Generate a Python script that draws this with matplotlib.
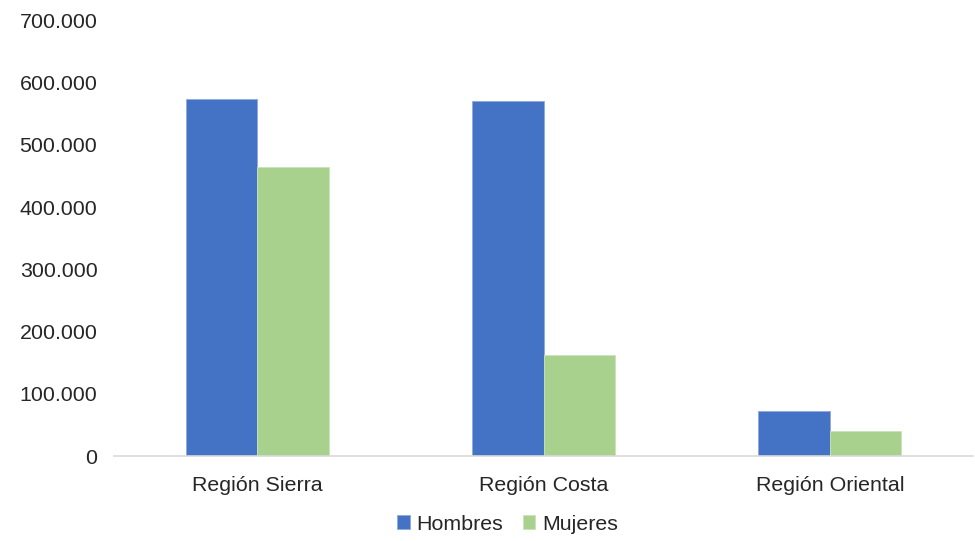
import matplotlib
matplotlib.use("Agg")
import matplotlib.pyplot as plt
import numpy as np
from matplotlib.ticker import FuncFormatter

plt.rcParams['font.family'] = ['Liberation Sans', 'DejaVu Sans']

regiones = ["Región Sierra", "Región Costa", "Región Oriental"]
hombres = [574400, 571200, 72300]
mujeres = [464600, 162400, 40200]
series = ["Hombres", "Mujeres"]
colores = ["#4472C4", "#A9D18E"]
yticks = [0, 100000, 200000, 300000, 400000, 500000, 600000, 700000]

fig = plt.figure(figsize=(9.75, 5.41), dpi=100)
ax = fig.add_axes([0.117, 0.157, 0.881, 0.805])

x = np.arange(len(regiones))
w = 0.25
ax.bar(x - w / 2, hombres, w, color=colores[0], label=series[0],
       edgecolor="#8fa9dc", linewidth=0.6)
ax.bar(x + w / 2, mujeres, w, color=colores[1], label=series[1],
       edgecolor="#c9e3b9", linewidth=0.6)

ax.set_xlim(-0.5, 2.5)
ax.set_ylim(0, 700000)
ax.set_yticks(yticks)
ax.yaxis.set_major_formatter(FuncFormatter(lambda v, p: f"{int(v):,}".replace(",", ".")))
ax.set_xticks(x)
ax.set_xticklabels(regiones)

for s in ["top", "right", "left"]:
    ax.spines[s].set_visible(False)
ax.spines["bottom"].set_color("#d9d9d9")
ax.spines["bottom"].set_linewidth(1.2)
ax.tick_params(axis="both", length=0, labelsize=15.4, colors="#262626")
ax.tick_params(axis="y", pad=12)
ax.tick_params(axis="x", pad=14)

ax.legend(loc="upper center", bbox_to_anchor=(0.458, -0.09), ncol=2, frameon=False,
          fontsize=15.4, handlelength=0.6, handleheight=0.6, handletextpad=0.3,
          columnspacing=0.9, labelcolor="#262626")

fig.savefig("out.png", dpi=100, facecolor="white")
